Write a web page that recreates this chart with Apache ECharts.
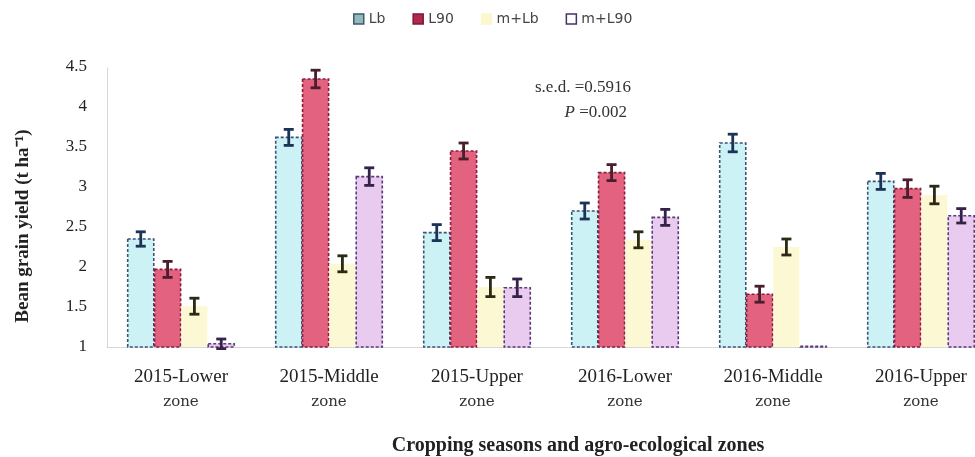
<!DOCTYPE html>
<html>
<head>
<meta charset="utf-8">
<script src="https://cdn.jsdelivr.net/npm/echarts@6/dist/echarts.min.js"></script>
<style>
  html, body { margin: 0; padding: 0; background: #ffffff; }
  #chart { width: 975px; height: 457px; }
</style>
</head>
<body>
<div id="chart"></div>
<script>
// Cropping season / zone groups
const categories = ['2015-Lower\nzone', '2015-Middle\nzone', '2015-Upper\nzone',
                    '2016-Lower\nzone', '2016-Middle\nzone', '2016-Upper\nzone'];

// Treatments
const treatments = ['Lb', 'L90', 'm+Lb', 'm+L90'];

// Mean bean grain yield (t ha-1)
const yieldLb   = [2.35, 3.62, 2.43, 2.70, 3.55, 3.07];
const yieldL90  = [1.97, 4.35, 3.45, 3.18, 1.66, 2.98];
const yieldMLb  = [1.51, 2.04, 1.75, 2.34, 2.25, 2.90];
const yieldML90 = [1.04, 3.13, 1.74, 2.62, 1.01, 2.64];

// Standard error (half length of the error bars)
const errLb   = [0.09, 0.10, 0.10, 0.10, 0.11, 0.10];
const errL90  = [0.10, 0.11, 0.10, 0.10, 0.10, 0.11];
const errMLb  = [0.10, 0.10, 0.12, 0.10, 0.10, 0.11];
const errML90 = [0.06, 0.11, 0.11, 0.10, 0.00, 0.09];

// Y axis ticks
const yMin = 1, yMax = 4.5, yStep = 0.5;

const sedText = 's.e.d. =0.5916';
const pText = '=0.002';

const yields = [yieldLb, yieldL90, yieldMLb, yieldML90];
const errors = [errLb, errL90, errMLb, errML90];

const styles = [
  { fill: '#cdf2f6', stroke: '#3a5478', dash: [3, 2], err: '#1c3358', legend: '#93b9bd', legendBorder: '#3c5a6e' },
  { fill: '#e2627f', stroke: '#8a1c3c', dash: [3, 2], err: '#4a1e2c', legend: '#b3284d', legendBorder: '#7a1a34' },
  { fill: '#fcf8d3', stroke: null,      dash: null,   err: '#2b2a14', legend: '#fbf8cf', legendBorder: '#fbf8cf' },
  { fill: '#eacbf0', stroke: '#5a3a7e', dash: [3, 2], err: '#35224a', legend: '#ffffff', legendBorder: '#4a3068' }
];

const CAT_GAP = 0.28;  // fraction of category band left empty
const BAR_GAP = 0.03;  // gap between neighbouring bars, fraction of bar width
const N = treatments.length;

function makeRenderer(k) {
  const st = styles[k];
  return function (params, api) {
    const cat = api.value(0);
    const val = api.value(1);
    const err = api.value(2);
    const band = api.size([1, 0])[0];
    const w = band * (1 - CAT_GAP) / (N + (N - 1) * BAR_GAP);
    const total = N * w + (N - 1) * BAR_GAP * w;
    const center = api.coord([cat, yMin])[0];
    const x0 = center - total / 2 + k * w * (1 + BAR_GAP);
    const yBase = api.coord([cat, yMin])[1];
    const yTop = api.coord([cat, val])[1];
    const children = [{
      type: 'rect',
      shape: { x: x0, y: yTop, width: w, height: yBase - yTop },
      style: {
        fill: st.fill,
        stroke: st.stroke || 'none',
        lineWidth: st.stroke ? 1.6 : 0,
        lineDash: st.dash || null
      }
    }];
    if (err > 0) {
      const cx = x0 + w / 2;
      const yHi = api.coord([cat, val + err])[1];
      const yLo = api.coord([cat, val - err])[1];
      const cap = 5;
      const es = { stroke: st.err, lineWidth: 2.8 };
      children.push(
        { type: 'line', shape: { x1: cx, y1: yHi, x2: cx, y2: yLo }, style: es },
        { type: 'line', shape: { x1: cx - cap, y1: yHi, x2: cx + cap, y2: yHi }, style: es },
        { type: 'line', shape: { x1: cx - cap, y1: yLo, x2: cx + cap, y2: yLo }, style: es }
      );
    }
    return { type: 'group', children: children };
  };
}

const series = treatments.map(function (name, k) {
  return {
    name: name,
    type: 'custom',
    renderItem: makeRenderer(k),
    encode: { x: 0, y: 1 },
    itemStyle: { color: styles[k].legend },
    data: categories.map(function (c, i) { return [i, yields[k][i], errors[k][i]]; }),
    clip: false,
    z: 2
  };
});

const chart = echarts.init(document.getElementById('chart'), null, { renderer: 'canvas' });

chart.setOption({
  backgroundColor: '#ffffff',
  animation: false,
  legend: {
    top: 7,
    left: 348,
    itemGap: 27,
    itemWidth: 10,
    itemHeight: 10,
    icon: 'rect',
    textStyle: { fontFamily: 'DejaVu Sans', fontSize: 14, color: '#444' },
    data: treatments.map(function (t, k) {
      return {
        name: t,
        itemStyle: { color: styles[k].legend, borderColor: styles[k].legendBorder, borderWidth: 1.5 }
      };
    })
  },
  // the plot runs slightly past the right edge of the canvas
  grid: { left: 107, top: 67, width: 888, bottom: 110, containLabel: false, outerBoundsMode: 'none' },
  xAxis: {
    type: 'category',
    data: categories,
    axisLine: { show: true, lineStyle: { color: '#cfcfcf', type: 'dotted', width: 1 } },
    axisTick: { show: false },
    axisLabel: {
      interval: 0,
      margin: 18,
      formatter: function (v) {
        const parts = v.split('\n');
        return '{a|' + parts[0] + '}\n{b|' + parts[1] + '}';
      },
      rich: {
        a: { fontFamily: 'Liberation Serif', fontSize: 19, color: '#222', lineHeight: 25 },
        b: { fontFamily: 'DejaVu Serif', fontSize: 15, color: '#333', lineHeight: 25 }
      }
    }
  },
  yAxis: {
    type: 'value',
    min: yMin,
    max: yMax,
    interval: yStep,
    axisLine: { show: true, lineStyle: { color: '#cfcfcf', type: 'dotted', width: 1 } },
    axisTick: { show: false },
    splitLine: { show: false },
    axisLabel: {
      margin: 20,
      fontFamily: 'Liberation Serif',
      fontSize: 17,
      color: '#222',
      formatter: function (v) { return String(v); }
    }
  },
  graphic: [
    {
      type: 'text',
      x: 23, y: 226,
      rotation: Math.PI / 2,
      style: {
        text: 'Bean grain yield (t ha\u207B\u00B9)',
        fontFamily: 'Liberation Serif', fontSize: 19, fontWeight: 'bold', fill: '#222',
        textAlign: 'center', textVerticalAlign: 'middle'
      }
    },
    {
      type: 'text',
      x: 631, y: 88,
      style: {
        text: sedText,
        fontFamily: 'Liberation Serif', fontSize: 17, fill: '#333',
        textAlign: 'right', textVerticalAlign: 'middle'
      }
    },
    {
      type: 'text',
      x: 627, y: 113,
      style: {
        text: '{i|P} ' + pText,
        rich: { i: { fontFamily: 'Liberation Serif', fontStyle: 'italic', fontSize: 17, fill: '#333' } },
        fontFamily: 'Liberation Serif', fontSize: 17, fill: '#333',
        textAlign: 'right', textVerticalAlign: 'middle'
      }
    },
    {
      type: 'text',
      x: 578, y: 446,
      style: {
        text: 'Cropping seasons and agro-ecological zones',
        fontFamily: 'Liberation Serif', fontSize: 20, fontWeight: 600, fill: '#222',
        textAlign: 'center', textVerticalAlign: 'middle'
      }
    }
  ],
  series: series
});
</script>
</body>
</html>
